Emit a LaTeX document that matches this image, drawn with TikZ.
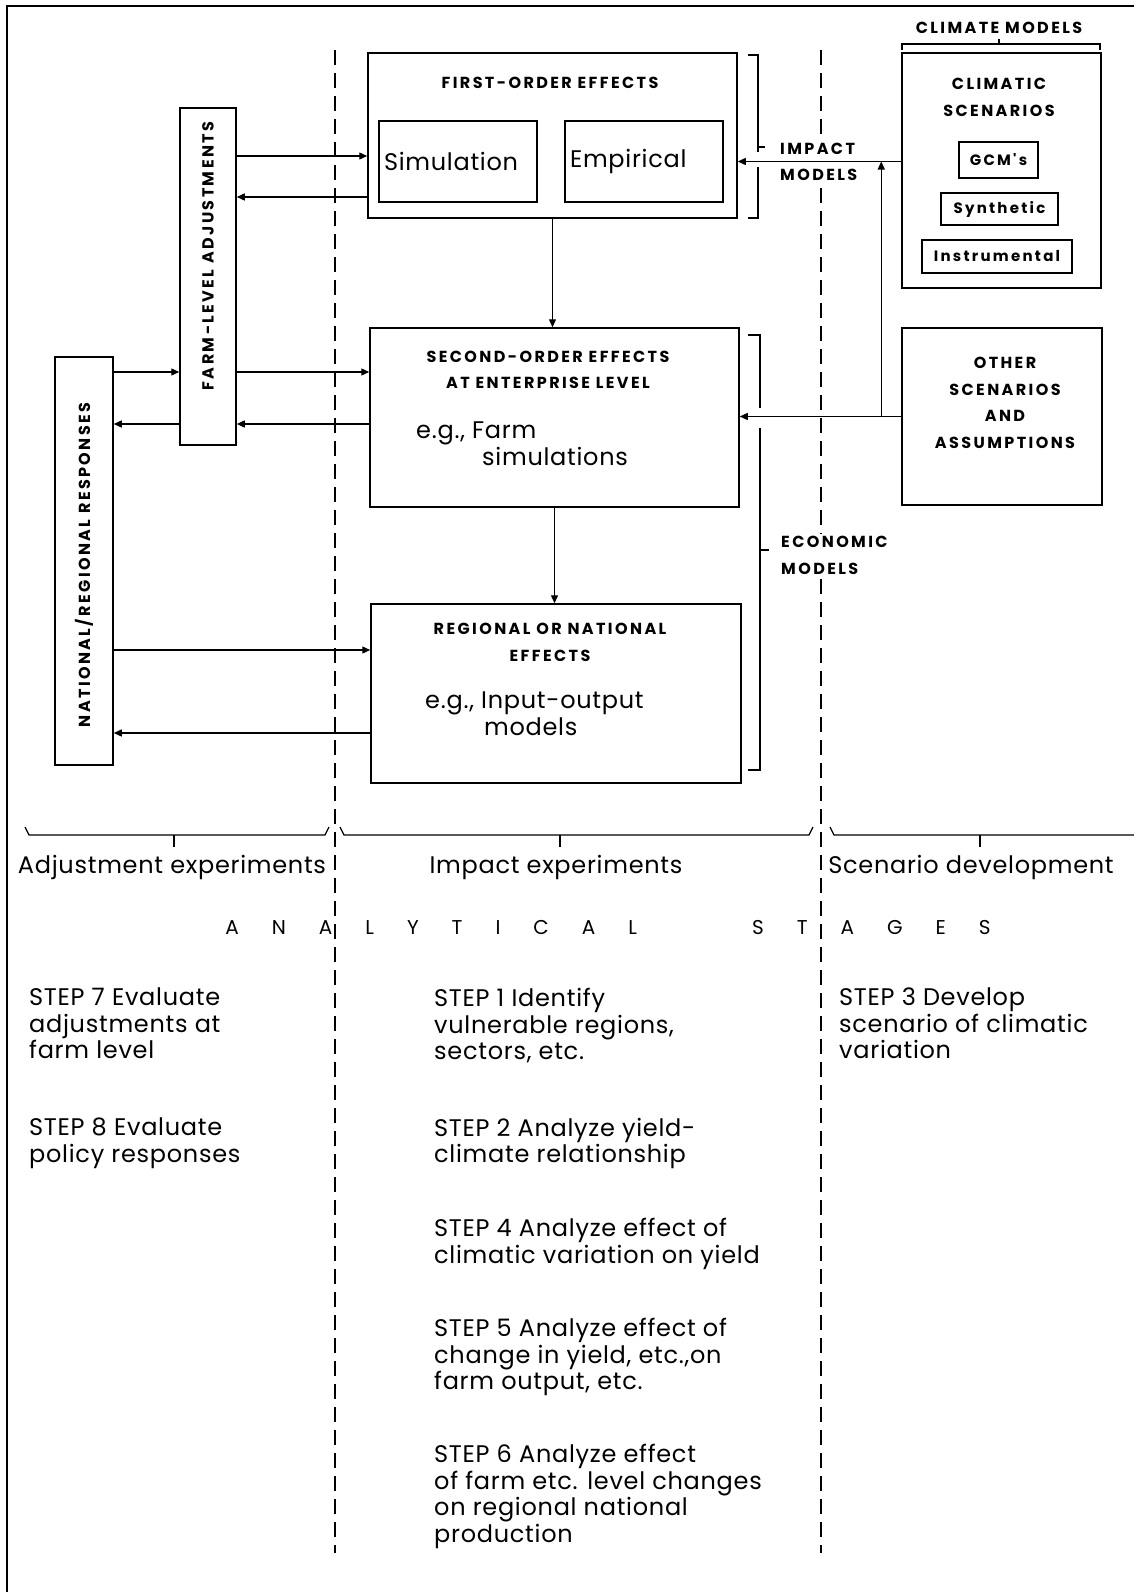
\documentclass[tikz,border=0pt]{standalone}
\usepackage{fontspec}
\setmainfont{Poppins}
\newfontfamily\capsfont[LetterSpace=15]{Poppins}
\newfontfamily\bodyfont[LetterSpace=3]{Poppins}
\usetikzlibrary{arrows.meta,calc}

\begin{document}
\begin{tikzpicture}[x=1pt, y=-1pt,
    box/.style={draw, line width=1.5pt, inner sep=0pt},
    sbox/.style={draw, line width=1.3pt, inner sep=0pt, font=\capsfont\bfseries\fontsize{15}{18}\selectfont},
    arr/.style={line width=1.3pt, -{Triangle[length=8pt,width=7pt]}},
    caps/.style={font=\capsfont\bfseries\fontsize{16}{26.5}\selectfont, align=center, inner sep=0pt},
    body/.style={font=\bodyfont\fontsize{24}{26.5}\selectfont, align=left, inner sep=0pt},
    divider/.style={line width=1.5pt, dash pattern=on 15pt off 8pt},
    brk/.style={line width=1.3pt}]

    \useasboundingbox (0,0) rectangle (1134,1592);
    % frame and stage dividers
    \draw[line width=1.5pt] (7,1592) -- (7,6) -- (1134,6);
    \draw[divider] (335,50) -- (335,1553);
    \draw[divider] (821,50) -- (821,1553);

    % effect boxes
    \node (b1) at (552.5,135.5) [box, minimum width=369pt, minimum height=165pt] {};
    \node (b2) at (458,161.5) [box, minimum height=81pt, text width=148pt, inner xsep=5pt, align=left, font=\bodyfont\fontsize{24}{26}\selectfont] {Simulation};
    \node (b3) at (644,161.5) [box, minimum height=81pt, text width=148pt, inner xsep=5pt, align=left, font=\bodyfont\fontsize{24}{26}\selectfont] {Empirical};
    \node (b4) at (554.5,417.5) [box, minimum width=369pt, minimum height=179pt] {};
    \node (b5) at (556,693.5) [box, minimum width=370pt, minimum height=179pt] {};

    % response boxes
    \node (b6) at (208,276.5) [box, minimum width=56pt, minimum height=337pt] {};
    \node (b7) at (84,561) [box, minimum width=58pt, minimum height=408pt] {};

    % scenario boxes
    \node (b8) at (1001.5,170.5) [box, minimum width=199pt, minimum height=235pt] {};
    \node (b9) at (998.5,160) [sbox, minimum width=79pt, minimum height=36pt] {GCM's};
    \node (b10) at (999.5,209) [sbox, minimum width=117pt, minimum height=32pt] {Synthetic};
    \node (b11) at (997,256.5) [sbox, minimum width=150pt, minimum height=33pt] {Instrumental};
    \node (b12) at (1002,416.5) [box, minimum width=200pt, minimum height=177pt] {};

    % box titles
    \node (l1) at (550,83) [caps] {FIRST-ORDER EFFECTS};
    \node (l2) at (548,370) [caps] {SECOND-ORDER EFFECTS\\AT ENTERPRISE LEVEL};
    \node (l3) at (416,443.5) [body, anchor=west] {e.g., Farm\\\hspace*{66pt}simulations};
    \node (l4) at (550,642.5) [caps] {REGIONAL OR NATIONAL\\EFFECTS};
    \node (l5) at (425,713.5) [body, anchor=west] {e.g., Input-output\\\hspace*{59pt}models};
    \node (l6) at (208,256) [caps, rotate=90] {FARM-LEVEL ADJUSTMENTS};
    \node (l7) at (84,565) [caps, rotate=90] {NATIONAL/REGIONAL RESPONSES};
    \node (l8) at (999,28) [caps] {CLIMATE MODELS};
    \node (l9) at (999,97.5) [caps] {CLIMATIC\\SCENARIOS};
    \node (l10) at (1005,403) [caps] {OTHER\\SCENARIOS\\AND\\ASSUMPTIONS};
    \node (l11) at (777,162) [caps, anchor=west, align=left, fill=white, inner sep=3pt] {IMPACT\\MODELS};
    \node (l12) at (778,555.5) [caps, anchor=west, align=left, fill=white, inner sep=3pt] {ECONOMIC\\MODELS};

    % model brackets
    \draw[brk] (748,55) -- (758,55) -- (758,152);
    \draw[brk] (758,167) -- (758,218) -- (748,218);
    \draw[brk] (758,147) -- (765,147);
    \draw[brk] (748,335) -- (760,335) -- (760,408);
    \draw[brk] (760,428) -- (760,770) -- (748,770);
    \draw[brk] (760,550) -- (769,550);
    \draw[brk] (902,50) -- (902,44) -- (1100,44) -- (1100,50);
    \draw[brk] (999,44) -- (999,39);

    % connectors
    \draw[arr] ($(b6.east |- b1)+(0,20.5)$) -- ($(b1.west)+(0,20.5)$);
    \draw[arr] ($(b1.west)+(0,61.5)$) -- ($(b6.east |- b1)+(0,61.5)$);
    \draw[arr] ($(b7.east |- b4)+(0,-45.5)$) -- ($(b6.west |- b4)+(0,-45.5)$);
    \draw[arr] ($(b6.west |- b4)+(0,6.5)$) -- ($(b7.east |- b4)+(0,6.5)$);
    \draw[arr] ($(b6.east |- b4)+(0,-45.5)$) -- ($(b4.west)+(0,-45.5)$);
    \draw[arr] ($(b4.west)+(0,6.5)$) -- ($(b6.east |- b4)+(0,6.5)$);
    \draw[arr] ($(b7.east |- b5)+(0,-43.5)$) -- ($(b5.west)+(0,-43.5)$);
    \draw[arr] ($(b5.west)+(0,39.5)$) -- ($(b7.east |- b5)+(0,39.5)$);
    \draw[arr] (b1.south) -- (b1.south |- b4.north);
    \draw[arr] (b4.south) -- (b4.south |- b5.north);
    \draw[arr] (b8.west |- b3) -- (b1.east |- b3);
    \draw[arr] (b12.west) -- (b4.east |- b12.west);
    \coordinate (c1) at ($(b12.west)+(-20,0)$);
    \draw[arr] (c1) -- (c1 |- b3);

    % stage braces
    \draw[brk] (25,827) -- (29,835) -- (325,835) -- (329,827);
    \draw[brk] (174,835) -- (174,847);
    \draw[brk] (340,827) -- (344,835) -- (809,835) -- (813,827);
    \draw[brk] (560,835) -- (560,847);
    \draw[brk] (830,827) -- (834,835) -- (1134,835);
    \draw[brk] (980,835) -- (980,847);

    \node (h1) at (172,867) [body] {Adjustment experiments};
    \node (h2) at (556,867) [body] {Impact experiments};
    \node (h3) at (971,867) [body] {Scenario development};
    \node (h4) at (608,927) [font=\fontsize{20}{24}\selectfont, inner sep=0pt] {\spaceskip=33pt A N A L Y T I C A L\hspace{82pt} S T A G E S};

    % analysis steps
    \node (s7) at (29,988) [body, anchor=north west] {STEP 7 Evaluate\\adjustments at\\farm level};
    \node (s8) at (29,1118) [body, anchor=north west] {STEP 8 Evaluate\\policy responses};
    \node (s1) at (434,988) [body, anchor=north west] {STEP 1 Identify\\vulnerable regions,\\sectors, etc.};
    \node (s2) at (434,1118) [body, anchor=north west] {STEP 2 Analyze yield-\\climate relationship};
    \node (s4) at (434,1218) [body, anchor=north west] {STEP 4 Analyze effect of\\climatic variation on yield};
    \node (s5) at (434,1318) [body, anchor=north west] {STEP 5 Analyze effect of\\change in yield, etc.,on\\farm output, etc.};
    \node (s6) at (434,1444) [body, anchor=north west] {STEP 6 Analyze effect\\of farm etc. level changes\\on regional national\\production};
    \node (s3) at (839,988) [body, anchor=north west] {STEP 3 Develop\\scenario of climatic\\variation};
\end{tikzpicture}
\end{document}
